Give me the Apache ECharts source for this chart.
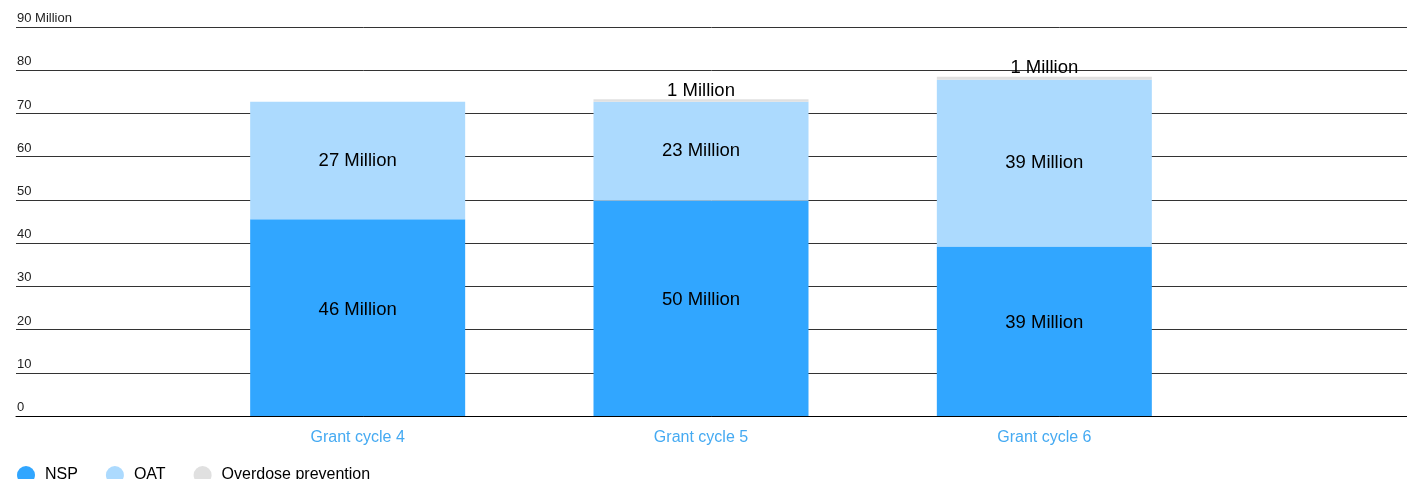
<!DOCTYPE html>
<html>
<head>
<meta charset="utf-8">
<script src="https://cdn.jsdelivr.net/npm/echarts@6/dist/echarts.min.js"></script>
<style>
html,body{margin:0;padding:0;background:#fff;}
#chart{width:1407px;height:479px;}
</style>
</head>
<body>
<div id="chart"></div>
<script>
const categories = ['Grant cycle 4', 'Grant cycle 5', 'Grant cycle 6'];
const nsp = [45.5, 49.8, 39.2];
const oat = [27.2, 22.9, 38.6];
const overdose = [0, 0.6, 0.7];
const yTicks = [0, 10, 20, 30, 40, 50, 60, 70, 80, 90];

const FONT = '"Liberation Sans", Arial, Helvetica, sans-serif';
const chart = echarts.init(document.getElementById('chart'));

function fmt(p) { return p.value > 0 ? Math.round(p.value) + ' Million' : ''; }

chart.setOption({
  animation: false,
  textStyle: { fontFamily: FONT },
  grid: [
    { left: 16, right: 0, top: 27, bottom: 63 },
    { left: 186, right: 191, top: 27, bottom: 63 }
  ],
  xAxis: [
    { type: 'value', gridIndex: 0, min: 0, max: 1, axisLine: { show: true, onZero: false, lineStyle: { color: '#000', width: 1 } },
      axisTick: { show: false }, axisLabel: { show: false }, splitLine: { show: false } },
    { type: 'category', gridIndex: 1, data: categories, axisLine: { show: false }, axisTick: { show: false },
      axisLabel: { color: '#45aaf2', fontSize: 16, margin: 14, fontFamily: FONT } }
  ],
  yAxis: [
    { type: 'value', gridIndex: 0, min: yTicks[0], max: yTicks[yTicks.length - 1], interval: 10,
      axisLine: { show: false }, axisTick: { show: false },
      splitLine: { lineStyle: { color: '#333', width: 1 } },
      axisLabel: { inside: true, margin: 1, fontSize: 13, color: '#222', verticalAlign: 'bottom', padding: [0, 0, 2, 0],
        fontFamily: FONT,
        formatter: v => v === 90 ? '90 Million' : String(v) } },
    { type: 'value', gridIndex: 1, min: 0, max: 90, interval: 10, show: false, splitLine: { show: false } }
  ],
  legend: {
    left: 12, top: 461, itemWidth: 28, itemHeight: 18, itemGap: 28, icon: 'circle',
    textStyle: { fontSize: 16, color: '#000', fontFamily: FONT },
    data: ['NSP', 'OAT', 'Overdose prevention']
  },
  series: [
    { name: 'NSP', type: 'bar', stack: 'a', xAxisIndex: 1, yAxisIndex: 1, barWidth: 215, data: nsp,
      itemStyle: { color: '#31a6ff' },
      label: { show: true, position: 'inside', offset: [0, -8], color: '#000', fontSize: 18.5, fontFamily: FONT, formatter: fmt } },
    { name: 'OAT', type: 'bar', stack: 'a', xAxisIndex: 1, yAxisIndex: 1, barWidth: 215, data: oat,
      itemStyle: { color: '#acdafe' },
      label: { show: true, position: 'inside', color: '#000', fontSize: 18.5, fontFamily: FONT, formatter: fmt } },
    { name: 'Overdose prevention', type: 'bar', stack: 'a', xAxisIndex: 1, yAxisIndex: 1, barWidth: 215, data: overdose,
      itemStyle: { color: '#e0e0e0' },
      label: { show: true, position: 'top', distance: -1, color: '#000', fontSize: 18.5, fontFamily: FONT, formatter: fmt } }
  ]
});
</script>
</body>
</html>
